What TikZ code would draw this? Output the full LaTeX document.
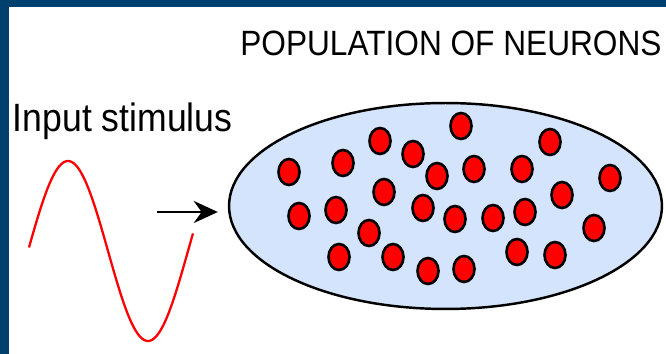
\documentclass[tikz,border=0pt]{standalone}
\usepackage{fontspec}
\newfontfamily\labelfont[FakeStretch=0.9]{Liberation Sans}
\usepackage{xcolor}
\usepackage{tikz}
\usetikzlibrary{shapes.geometric, arrows.meta, positioning}
\definecolor{frameblue}{RGB}{0,64,110}
\definecolor{popblue}{RGB}{212,228,252}

\begin{document}
\begin{tikzpicture}[
  x=0.02cm, y=-0.02cm,
  title/.style={anchor=base west, inner sep=0pt, font=\labelfont\fontsize{20pt}{24pt}\selectfont},
  stimlabel/.style={anchor=base west, inner sep=0pt, font=\labelfont\fontsize{22.5pt}{27pt}\selectfont},
  pop/.style={ellipse, draw, fill=popblue, line width=1.4pt, minimum width=8.66cm, minimum height=4.12cm, inner sep=0pt},
  neuron/.style={ellipse, draw, fill=red, line width=1.5pt, minimum width=0.42cm, minimum height=0.52cm, inner sep=0pt},
  wave/.style={red, line width=1.3pt},
  arr/.style={-{Stealth[length=0.48cm, width=0.44cm]}, line width=1.6pt}
]
\useasboundingbox (0,0) rectangle (666,354);

% Frame
\fill[frameblue] (0,0) rectangle (666,7);
\fill[frameblue] (0,0) rectangle (9,354);

% Labels
\node[title] (poptitle) at (240,56) {POPULATION OF NEURONS};
\node[stimlabel] (stimtitle) at (12.5,132) {Input stimulus};

% Input stimulus
\draw[wave] plot[domain=29:193, samples=90, smooth] (\x, {251+90*sin(2.25*(\x-108))});

% Population
\node[pop] (popn) at (445.5,206) {};

% Neurons
\node[neuron] (n1) at (289,172) {};
\node[neuron] (n2) at (343,163) {};
\node[neuron] (n3) at (380,141) {};
\node[neuron] (n4) at (413,154) {};
\node[neuron] (n5) at (437,176) {};
\node[neuron] (n6) at (461,126) {};
\node[neuron] (n7) at (474,169) {};
\node[neuron] (n8) at (522,169) {};
\node[neuron] (n9) at (550,142) {};
\node[neuron] (n10) at (610,178) {};
\node[neuron] (n11) at (384,192) {};
\node[neuron] (n12) at (299,216) {};
\node[neuron] (n13) at (336,210) {};
\node[neuron] (n14) at (423,208) {};
\node[neuron] (n15) at (455,219) {};
\node[neuron] (n16) at (493,218) {};
\node[neuron] (n17) at (525,212) {};
\node[neuron] (n18) at (562,195) {};
\node[neuron] (n19) at (594,228) {};
\node[neuron] (n20) at (369,233) {};
\node[neuron] (n21) at (339,257) {};
\node[neuron] (n22) at (393,257) {};
\node[neuron] (n23) at (428,271) {};
\node[neuron] (n24) at (464,269) {};
\node[neuron] (n25) at (517,252) {};
\node[neuron] (n26) at (555,255) {};

% Stimulus arrow
\coordinate (arrtail) at (157,212);
\draw[arr, shorten >=0.2cm] (arrtail) -- (arrtail -| popn.west);
\end{tikzpicture}
\end{document}
